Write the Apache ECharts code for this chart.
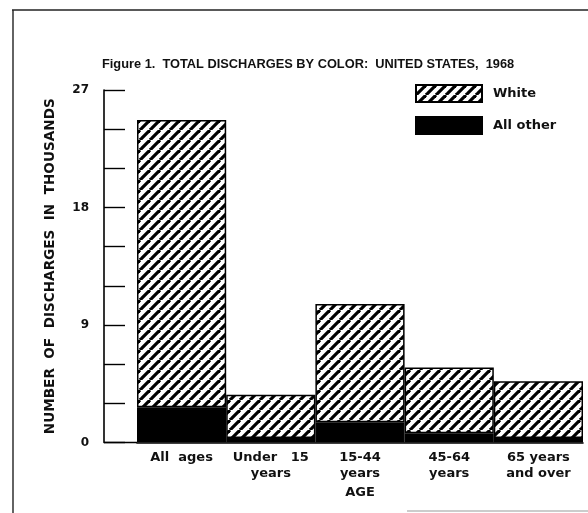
<!DOCTYPE html>
<html>
<head>
<meta charset="utf-8">
<style>
  html, body { margin: 0; padding: 0; background: #fff; }
  #chart { width: 588px; height: 513px; }
</style>
<script src="https://cdn.jsdelivr.net/npm/echarts@6/dist/echarts.min.js"></script>
</head>
<body>
<div id="chart"></div>
<script>
// age groups along the bottom
var ageGroups = ["All  ages", "Under   15\nyears", "15-44\nyears", "45-64\nyears", "65 years\nand over"];
// discharges in thousands
var whiteValues = [22.0, 3.3, 9.05, 5.05, 4.35];
var otherValues = [2.7, 0.35, 1.55, 0.7, 0.35];
var yLabelValues = [0, 9, 18, 27];

var chart = echarts.init(document.getElementById("chart"));

// diagonal hatch for the "White" bars
function hatch() {
  var s = 10;
  var c = document.createElement("canvas");
  c.width = s;
  c.height = s;
  var ctx = c.getContext("2d");
  ctx.fillStyle = "#fff";
  ctx.fillRect(0, 0, s, s);
  ctx.strokeStyle = "#000";
  ctx.lineWidth = 3.2;
  [-s, 0, s].forEach(function (o) {
    ctx.beginPath();
    ctx.moveTo(o, s);
    ctx.lineTo(o + s, 0);
    ctx.stroke();
  });
  return c;
}

var labelFont = "'DejaVu Sans', sans-serif";

var option = {
  animation: false,
  backgroundColor: "#fff",
  title: {
    text: "Figure 1.  TOTAL DISCHARGES BY COLOR:  UNITED STATES,  1968",
    left: 97,
    top: 53,
    textStyle: {
      fontFamily: "'Liberation Sans', Arial, sans-serif",
      fontWeight: "bold",
      fontSize: 12.8,
      color: "#111"
    }
  },
  legend: {
    orient: "vertical",
    left: 410,
    top: 79,
    icon: "rect",
    itemWidth: 66,
    itemHeight: 17,
    itemGap: 13,
    data: ["White", "All other"],
    textStyle: {
      fontFamily: labelFont,
      fontWeight: "bold",
      fontSize: 13,
      color: "#111",
      padding: [0, 0, 0, 6]
    }
  },
  grid: { left: 137, right: 5, top: 90, bottom: 70.5 },
  xAxis: {
    type: "category",
    data: ageGroups,
    name: "AGE",
    nameLocation: "middle",
    nameGap: 40,
    nameTextStyle: { fontFamily: labelFont, fontWeight: "bold", fontSize: 13, color: "#111" },
    axisLine: { lineStyle: { color: "#000", width: 1.6 } },
    axisTick: { show: false },
    axisLabel: {
      interval: 0,
      margin: 7,
      lineHeight: 16,
      fontFamily: labelFont,
      fontWeight: "bold",
      fontSize: 13,
      color: "#111"
    }
  },
  yAxis: {
    type: "value",
    min: 0,
    max: 27,
    interval: 3,
    offset: 33,
    name: "NUMBER  OF  DISCHARGES  IN  THOUSANDS",
    nameLocation: "middle",
    nameGap: 47,
    nameTextStyle: { fontFamily: labelFont, fontWeight: "bold", fontSize: 13.6, color: "#111" },
    axisLine: { show: true, lineStyle: { color: "#000", width: 1.6 } },
    axisTick: { show: true, inside: true, length: 21, lineStyle: { color: "#000", width: 1.4 } },
    splitLine: { show: false },
    axisLabel: {
      margin: 15,
      fontFamily: labelFont,
      fontWeight: "bold",
      fontSize: 12,
      color: "#111",
      formatter: function (v) {
        return yLabelValues.indexOf(v) >= 0 ? String(v) : "";
      }
    }
  },
  graphic: [
    // the picture's frame
    { type: "line", shape: { x1: 12, y1: 10, x2: 588, y2: 10 }, style: { stroke: "#222", lineWidth: 1.4 } },
    { type: "line", shape: { x1: 13, y1: 10, x2: 13, y2: 513 }, style: { stroke: "#222", lineWidth: 1.4 } },
    { type: "line", shape: { x1: 407, y1: 511, x2: 588, y2: 511 }, style: { stroke: "#999", lineWidth: 1 } },
    // baseline running back to the y axis
    { type: "line", shape: { x1: 104, y1: 442.5, x2: 137, y2: 442.5 }, style: { stroke: "#000", lineWidth: 1.6 } }
  ],
  series: [
    {
      name: "All other",
      type: "bar",
      stack: "total",
      barCategoryGap: "0%",
      data: otherValues,
      itemStyle: { color: "#000", borderColor: "#000", borderWidth: 1.5 }
    },
    {
      name: "White",
      type: "bar",
      stack: "total",
      barCategoryGap: "0%",
      data: whiteValues,
      itemStyle: { color: { image: hatch(), repeat: "repeat" }, borderColor: "#000", borderWidth: 1.5 }
    }
  ]
};

chart.setOption(option);
</script>
</body>
</html>
